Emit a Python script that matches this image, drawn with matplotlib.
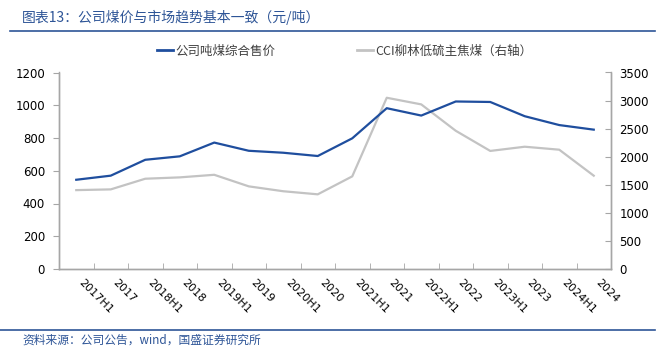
import matplotlib
matplotlib.use("Agg")
import matplotlib.pyplot as plt
import matplotlib.transforms as mtransforms
import numpy as np
from matplotlib.lines import Line2D

plt.rcParams['font.family'] = ['Noto Sans CJK SC', 'DejaVu Sans']

categories = ["2017H1", "2017", "2018H1", "2018", "2019H1", "2019", "2020H1", "2020",
              "2021H1", "2021", "2022H1", "2022", "2023H1", "2023", "2024H1", "2024"]
company_price = [545, 570, 667, 688, 772, 722, 710, 690, 798, 982, 937, 1023, 1020, 933, 879, 851]
cci_liulin = [1405, 1418, 1608, 1632, 1678, 1472, 1385, 1330, 1650, 3050, 2932, 2462, 2103, 2178, 2125, 1662]

left_ticks = [0, 200, 400, 600, 800, 1000, 1200]
right_ticks = [0, 500, 1000, 1500, 2000, 2500, 3000, 3500]

title = "图表13：公司煤价与市场趋势基本一致（元/吨）"
source = "资料来源：公司公告，wind，国盛证券研究所"
label1 = "公司吨煤综合售价"
label2 = "CCI柳林低硫主焦煤（右轴）"

blue = "#1F4E9E"
gray = "#C3C3C3"
spine_c = "#A6A6A6"
text_blue = "#2E5597"
num_font = ['DejaVu Sans']

W, H = 663, 349
fig = plt.figure(figsize=(W / 100, H / 100), dpi=100)
ax = fig.add_axes([59 / W, 1 - 269 / H, (611 - 59) / W, (269 - 72.5) / H])
ax2 = ax.twinx()

x = np.arange(len(categories))
ax.plot(x, company_price, color=blue, lw=1.6, zorder=3)
ax2.plot(x, cci_liulin, color=gray, lw=1.6, zorder=2)
ax.set_zorder(ax2.get_zorder() + 1)
ax.patch.set_visible(False)

ax.set_xlim(-0.5, len(categories) - 0.5)
ax.set_ylim(0, 1200)
ax2.set_ylim(0, 3500)
ax.set_yticks(left_ticks)
ax2.set_yticks(right_ticks)
for t in ax.get_yticklabels() + ax2.get_yticklabels():
    t.set_family(num_font)
    t.set_fontsize(8.5)

ax.set_xticks(x)
ax.set_xticklabels(categories, rotation=-45, ha='left', va='top', fontsize=8,
                   family=num_font)
offset = mtransforms.ScaledTranslation(-4 / 100, 0, fig.dpi_scale_trans)
for lbl in ax.get_xticklabels():
    lbl.set_transform(lbl.get_transform() + offset)
ax.tick_params(axis='x', which='major', length=0, pad=6)
ax.set_xticks(np.arange(-0.5, len(categories) + 0.5, 1), minor=True)
ax.tick_params(axis='x', which='minor', direction='in', length=4, color=spine_c)

ax.tick_params(axis='y', direction='out', length=4, color=spine_c, pad=6)
ax2.tick_params(axis='y', direction='in', length=4, color=spine_c, pad=6)

for a in (ax, ax2):
    a.spines['top'].set_visible(False)
    for s in ('left', 'right', 'bottom'):
        a.spines[s].set_color(spine_c)
        a.spines[s].set_linewidth(1.0)

# Title and decorative lines
fig.text(22 / W, 1 - 17 / H, title, color=text_blue, fontsize=10, style='italic',
         va='center', ha='left')
fig.add_artist(Line2D([10 / W, 655 / W], [1 - 31 / H, 1 - 31 / H], color=text_blue, lw=1.2))
fig.add_artist(Line2D([0 / W, 655 / W], [1 - 330 / H, 1 - 330 / H], color=text_blue, lw=1.2))
fig.text(22 / W, 1 - 340 / H, source, color=text_blue, fontsize=8.5, style='italic',
         va='center', ha='left')

# Legend
handles = [Line2D([], [], color=blue, lw=2), Line2D([], [], color=gray, lw=2)]
fig.legend(handles, [label1, label2], loc='center', bbox_to_anchor=(0.52, 1 - 51 / H),
           ncol=2, frameon=False, fontsize=9, handlelength=1.3, handletextpad=0.2,
           columnspacing=6.5, labelcolor='#404040')

fig.savefig("out.png", dpi=100)
